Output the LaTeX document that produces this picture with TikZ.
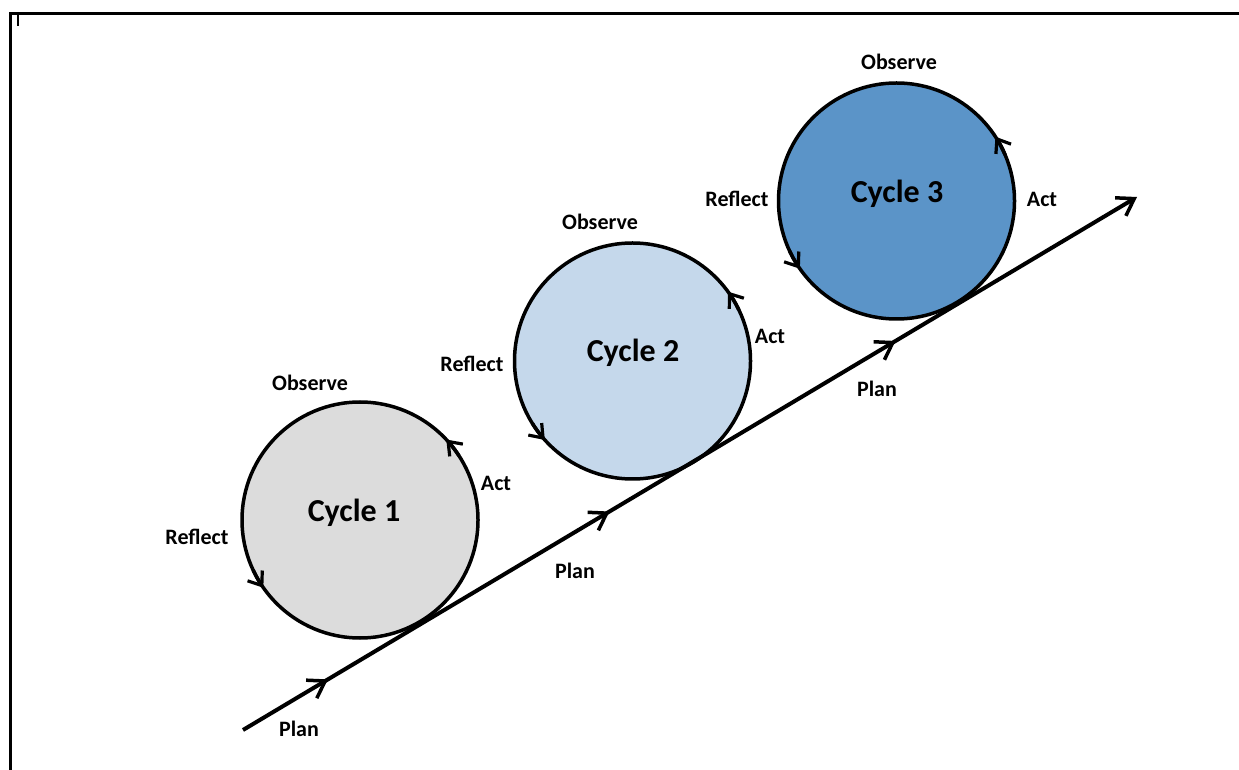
\documentclass[tikz,border=0pt]{standalone}
\usepackage{fontspec}
\setmainfont{Carlito}
\usetikzlibrary{arrows.meta,decorations.markings,calc}
\definecolor{cyconefill}{HTML}{DCDCDC}
\definecolor{cyctwofill}{HTML}{C5D8EB}
\definecolor{cycthreefill}{HTML}{5B94C8}
\begin{document}
\begin{tikzpicture}[x=1pt,y=1pt,
  cyc/.style={circle, draw=black, line width=3.5pt, minimum size=236pt, inner sep=0pt},
  lbl/.style={font=\fontsize{22}{26}\selectfont\bfseries, inner sep=0pt},
  big/.style={font=\fontsize{32}{38}\selectfont\bfseries, inner sep=0pt},
  mainbarb/.tip={Straight Barb[length=16pt,width=21pt,line width=3.5pt]},
  smallbarb/.tip={Straight Barb[length=12pt,width=18pt,line width=3.2pt]},
  mainline/.style={line width=4pt, -mainbarb,
    decoration={markings,
      mark=at position 0.095 with {\arrow{mainbarb}},
      mark=at position 0.41 with {\arrow{mainbarb}},
      mark=at position 0.73 with {\arrow{mainbarb}}},
    postaction={decorate}},
  cycarrow/.style={line width=3.5pt, -smallbarb},
  frame/.style={line width=3pt, line cap=rect}
]
\useasboundingbox (0,0) rectangle (1239,769);
% frame
\coordinate (ftl) at (10.5,755);
\coordinate (ftr) at (1245,755);
\coordinate (fbl) at (10.5,-5);
\coordinate (tick) at (18,743);
\draw[frame] (fbl) -- (ftl) -- (ftr);
\draw[line width=2pt] (18,755) -- (tick);

% circles
\node[cyc, fill=cyconefill] (c1) at (360,249) {};
\node[cyc, fill=cyctwofill] (c2) at (632.5,408) {};
\node[cyc, fill=cycthreefill] (c3) at (896.5,568) {};
\node[big] (t1) at (354,256) {Cycle 1};
\node[big] (t2) at (633,416) {Cycle 2};
\node[big] (t3) at (897,575) {Cycle 3};

% circle arrows
\draw[cycarrow] ([shift={(33:118)}]c1.center) arc[start angle=33, end angle=43, radius=118];
\draw[cycarrow] ([shift={(205:118)}]c1.center) arc[start angle=205, end angle=215, radius=118];
\draw[cycarrow] ([shift={(26:118)}]c2.center) arc[start angle=26, end angle=36, radius=118];
\draw[cycarrow] ([shift={(212:118)}]c2.center) arc[start angle=212, end angle=222, radius=118];
\draw[cycarrow] ([shift={(23:118)}]c3.center) arc[start angle=23, end angle=33, radius=118];
\draw[cycarrow] ([shift={(205:118)}]c3.center) arc[start angle=205, end angle=215, radius=118];

% main line
\coordinate (s) at (243,39);
\coordinate (e) at (1137,572);
\draw[mainline] (s) -- (e);

% labels
\node[lbl] (obs1) at (310,386) {Observe};
\node[lbl] (act1) at (496,286) {Act};
\node[lbl] (ref1) at (197,232) {Reflect};
\node[lbl] (plan1) at (299,40) {Plan};
\node[lbl] (obs2) at (600,547) {Observe};
\node[lbl] (act2) at (770,433) {Act};
\node[lbl] (ref2) at (472,405) {Reflect};
\node[lbl] (plan2) at (575,198) {Plan};
\node[lbl] (obs3) at (899,707) {Observe};
\node[lbl] (act3) at (1042,570) {Act};
\node[lbl] (ref3) at (737,570) {Reflect};
\node[lbl] (plan3) at (877,380) {Plan};
\end{tikzpicture}
\end{document}
